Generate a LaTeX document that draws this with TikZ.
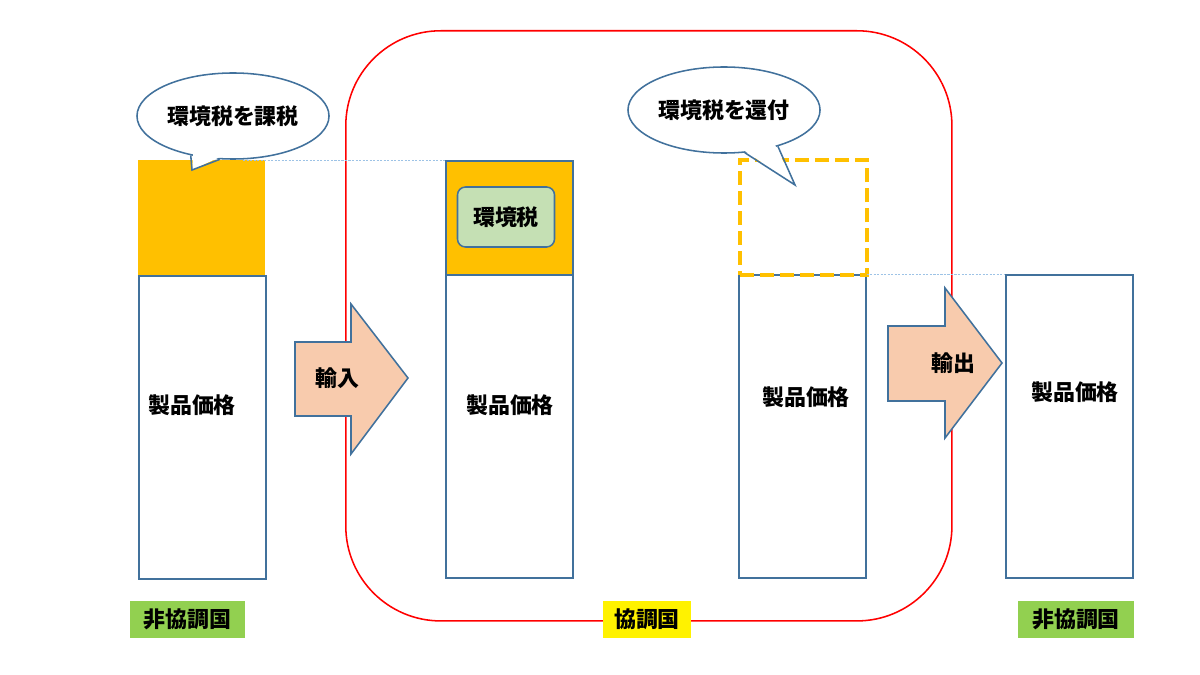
\documentclass[tikz,border=0pt]{standalone}
\usepackage{fontspec}
\setmainfont{Noto Sans CJK JP}
\usepackage{xcolor}
\usetikzlibrary{shapes.geometric,calc}
\definecolor{boxblue}{HTML}{41719C}
\definecolor{taxorange}{HTML}{FFC000}
\definecolor{arrowpeach}{HTML}{F8CBAD}
\definecolor{taxgreen}{HTML}{C5E0B4}
\definecolor{nongreen}{HTML}{92D050}
\definecolor{guideblue}{HTML}{9DC3E6}

\begin{document}
\begin{tikzpicture}[x=0.025cm,y=-0.025cm,
  font=\fontsize{15.6}{18}\selectfont\bfseries,
  price/.style={draw=boxblue,line width=1.1pt,fill=white,anchor=north west,
    minimum width=3.175cm,minimum height=7.575cm,inner sep=0pt},
  tax/.style={fill=taxorange,anchor=north west,
    minimum width=3.175cm,minimum height=2.875cm,inner sep=0pt},
  shout/.style={ellipse,draw=boxblue,line width=1.1pt,fill=white,
    minimum width=4.8cm,minimum height=2.15cm,inner sep=0pt},
  tail/.style={draw=boxblue,line width=1.1pt},
  trade/.style={draw=boxblue,line width=1.1pt,fill=arrowpeach},
  country/.style={minimum height=0.925cm,inner sep=0pt},
  guide/.style={guideblue,line width=0.6pt,dash pattern=on 1.5pt off 1pt}]
\useasboundingbox (0,0) rectangle (1200,675);

% coordinating countries
\node[draw=red,line width=1.1pt,rounded corners=2.375cm,minimum width=15.15cm,
  minimum height=14.75cm,anchor=north west] (zone) at (345,30) {};

% columns
\node[tax] (t1) at (138,160) {};
\node[price] (p1) at (138,275) {};
\node[tax,draw=boxblue,line width=1.1pt] (t2) at (445,160) {};
\node[price] (p2) at (445,274) {};
\node[price] (p3) at (738,274) {};
\node[tax,fill=none,draw=taxorange,line width=3pt,
  dash pattern=on 0.35cm off 0.15cm] (t3) at (738,158) {};
\node[price] (p4) at (1005,274) {};

\node (l1) at (192,405) {製品価格};
\node (l2) at (510,405) {製品価格};
\node (l3) at (806,397) {製品価格};
\node (l4) at (1075,392) {製品価格};

\node[draw=boxblue,line width=1.1pt,fill=taxgreen,rounded corners=0.2cm,
  minimum width=2.425cm,minimum height=1.5cm] (g2) at (506,217) {環境税};

% trade arrows
\draw[trade] (295,342) -- (351,342) -- (351,304) -- (408,378) -- (351,454)
  -- (351,416) -- (295,416) -- cycle;
\node (imp) at (337,378) {輸入};
\draw[trade] (888,326) -- (945,326) -- (945,288) -- (1002,363) -- (945,438)
  -- (945,401) -- (888,401) -- cycle;
\node (exp) at (953,363) {輸出};

% guides
\coordinate (g1) at (243,160);
\draw[guide] (g1) -- (t2.north west);
\draw[guide] (p3.north east) -- (p4.north west);

% callouts
\node[shout] (c1) at (233,116) {環境税を課税};
\coordinate (c1tip) at (192,170);
\fill[white] ($(c1.-137)!0.06!(c1.center)$) -- (c1tip)
  -- ($(c1.-107)!0.06!(c1.center)$) -- cycle;
\draw[tail] (c1.-137) -- (c1tip) -- (c1.-107);

\node[shout] (c2) at (724,110) {環境税を還付};
\coordinate (c2tip) at (795,185);
\fill[white] ($(c2.-64)!0.06!(c2.center)$) -- (c2tip)
  -- ($(c2.-34)!0.06!(c2.center)$) -- cycle;
\draw[tail] (c2.-64) -- (c2tip) -- (c2.-34);

% country labels
\node[country,fill=nongreen,minimum width=2.875cm] (n1) at (187.5,619.5) {非協調国};
\node[country,fill=yellow,minimum width=2.2cm] (co) at (647,619.5) {協調国};
\node[country,fill=nongreen,minimum width=2.9cm] (n2) at (1076,619.5) {非協調国};
\end{tikzpicture}
\end{document}
